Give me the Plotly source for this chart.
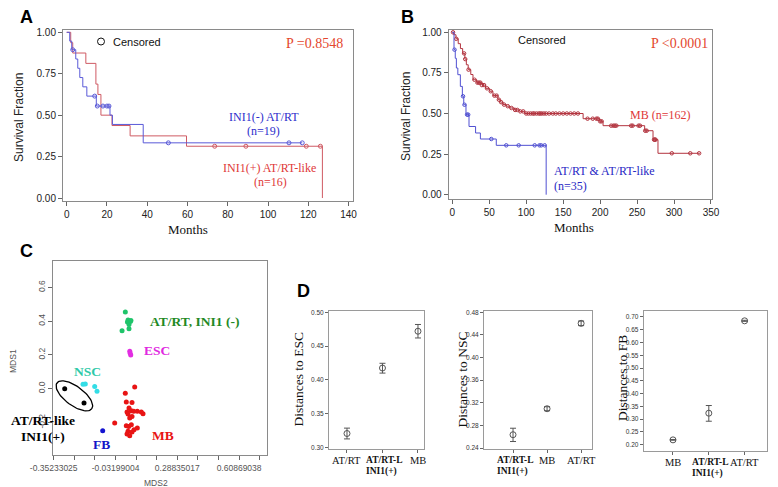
import math
import plotly.graph_objects as go

W, H = 778, 487
SANS = "Liberation Sans, Arial, sans-serif"
SERIF = "Liberation Serif, Times New Roman, serif"

# ---------------- Panel A: Kaplan-Meier, INI1(-) AT/RT vs INI1(+) AT/RT-like
a_blue_t = [0, 1.5, 2.5, 4.5, 5.5, 6.5, 8, 10, 14.7, 21.5, 22.7, 38, 117]
a_blue_s = [1, 0.947, 0.895, 0.839, 0.783, 0.727, 0.671, 0.615, 0.555, 0.50, 0.444, 0.333, 0.333]
a_blue_cens = [3, 13.9, 15.2, 18, 20, 21, 50.5, 110.4, 117]

a_red_t = [0, 2, 3, 9.5, 14.5, 15.5, 17, 22.5, 31.5, 59.5, 127]
a_red_s = [1, 0.9375, 0.875, 0.8125, 0.6875, 0.625, 0.5, 0.4375, 0.375, 0.3125, 0]
a_red_cens = [73.5, 89, 119, 126]

a_xticks = [0, 20, 40, 60, 80, 100, 120, 140]
km_yticks = [0, 0.25, 0.5, 0.75, 1.0]

# ---------------- Panel B: Kaplan-Meier, MB vs AT/RT & AT/RT-like
b_blue_t = [0, 2.3, 4, 5.5, 7.5, 10.9, 13.6, 15.5, 18.5, 22.6, 31.5, 38, 59.5, 127]
b_blue_s = [1, 0.893, 0.84, 0.78, 0.739, 0.667, 0.606, 0.554, 0.493, 0.42, 0.38, 0.343, 0.304, 0]
b_blue_cens = [3, 14.5, 16.5, 20, 21.5, 52.8, 73, 89.8, 111.5, 118, 120.4, 125]

b_red_t = [0, 2, 5, 8, 11, 14, 17, 19, 21.5, 25, 28, 33, 40, 45, 50.5, 55, 61.8, 65, 68.6,
           73, 77.7, 84, 91, 98, 177, 199.4, 204, 260.3, 271.6, 278.3, 335]
b_red_s = [1, 0.985, 0.96, 0.93, 0.90, 0.87, 0.835, 0.80, 0.77, 0.74, 0.708, 0.69, 0.675, 0.655,
           0.637, 0.61, 0.585, 0.57, 0.555, 0.545, 0.534, 0.522, 0.513, 0.50, 0.468, 0.452,
           0.425, 0.394, 0.339, 0.255, 0.255]
b_red_cens = [1, 5.4, 16, 17.5, 22, 30, 34, 36, 38, 40, 43, 47, 52, 57, 60, 63, 66, 70, 75, 80,
              85, 88, 92, 96, 100, 103, 106, 109, 111, 114, 117, 119, 121, 124, 127, 131, 136,
              140, 145, 150, 155, 160, 165, 170, 183, 190, 195, 197, 200, 202, 215, 218, 220,
              222, 242, 244, 252, 254, 261, 263, 273, 274, 275, 297, 322, 334]
b_xticks = [0, 50, 100, 150, 200, 250, 300, 350]

# ---------------- Panel C: MDS plot
c_atrt_x = [0.019, 0.033, 0.045, 0.030, 0.038, 0.002, 0.038, 0.048]
c_atrt_y = [0.454, 0.406, 0.398, 0.395, 0.380, 0.343, 0.355, 0.404]
c_esc_x = [0.042, 0.047, 0.044]
c_esc_y = [0.221, 0.200, 0.210]
c_nsc_x = [-0.2004, -0.1885, -0.1398, -0.1279]
c_nsc_y = [0.026, 0.028, 0.013, -0.015]
c_like_x = [-0.2953, -0.1952]
c_like_y = [0.0, -0.085]
c_fb_x = [-0.0984]
c_fb_y = [-0.2485]
c_mb_x = [0.0676, 0.0188, 0.0240, 0.0536, 0.0380, 0.0277, 0.0500, 0.0624, 0.0811, 0.1106,
          0.1018, 0.0329, 0.0536, 0.0417, -0.0361, 0.0240, 0.0365, 0.0500, 0.0811, 0.0640,
          0.0329, 0.0536, 0.0277, 0.0417]
c_mb_y = [0.010, -0.027, -0.079, -0.081, -0.114, -0.138, -0.130, -0.134, -0.134, -0.148,
          -0.138, -0.150, -0.164, -0.173, -0.203, -0.219, -0.223, -0.213, -0.232, -0.243,
          -0.252, -0.256, -0.268, -0.278]
c_x_start = -0.35233025
c_x_step = 0.10678007
c_x_nticks = 11
c_yticks = [-0.2, 0.0, 0.2, 0.4, 0.6]

# ---------------- Panel D: distances
d1_cats = ["AT/RT", "AT/RT-L|INI1(+)", "MB"]
d1_mean = [0.3205, 0.4175, 0.4720]
d1_lo = [0.3125, 0.4100, 0.4620]
d1_hi = [0.3285, 0.4245, 0.4820]
d1_yticks = [0.30, 0.35, 0.40, 0.45, 0.50]

d2_cats = ["AT/RT-L|INI1(+)", "MB", "AT/RT"]
d2_mean = [0.2635, 0.3095, 0.4605]
d2_lo = [0.2515, 0.3060, 0.4565]
d2_hi = [0.2750, 0.3130, 0.4645]
d2_yticks = [0.24, 0.28, 0.32, 0.36, 0.40, 0.44, 0.48]

d3_cats = ["MB", "AT/RT-L|INI1(+)", "AT/RT"]
d3_mean = [0.2185, 0.3230, 0.6850]
d3_lo = [0.2170, 0.2915, 0.6830]
d3_hi = [0.2200, 0.3530, 0.6870]
d3_yticks = [0.20, 0.25, 0.30, 0.35, 0.40, 0.45, 0.50, 0.55, 0.60, 0.65, 0.70]


def step_at(ts, ss, t):
    idx = 0
    for i, tt in enumerate(ts):
        if tt <= t:
            idx = i
    return ss[idx]


def dx(a, b):
    return [a / W, b / W]


def dy(top, bot):
    return [1 - bot / H, 1 - top / H]


def px(x):
    return x / W


def py(y):
    return 1 - y / H


fig = go.Figure()


def add_km(t, s, cens, color, xa, ya, msize=4):
    fig.add_trace(go.Scatter(x=t, y=s, mode="lines", line=dict(color=color, width=1, shape="hv"),
                             xaxis=xa, yaxis=ya, hoverinfo="skip"))
    fig.add_trace(go.Scatter(x=cens, y=[step_at(t, s, c) for c in cens], mode="markers",
                             marker=dict(symbol="circle-open", size=msize, color=color,
                                         line=dict(width=1, color=color)),
                             xaxis=xa, yaxis=ya, hoverinfo="skip"))


add_km(a_red_t, a_red_s, a_red_cens, "#cf5a63", "x", "y")
add_km(a_blue_t, a_blue_s, a_blue_cens, "#5a5ad8", "x", "y")
add_km(b_red_t, b_red_s, b_red_cens, "#b3343f", "x2", "y2", msize=3.5)
add_km(b_blue_t, b_blue_s, b_blue_cens, "#5050d2", "x2", "y2", msize=3.5)

# MDS points
for xs, ys, col in [(c_atrt_x, c_atrt_y, "#1fc46a"), (c_esc_x, c_esc_y, "#e22ee2"),
                    (c_nsc_x, c_nsc_y, "#33dde6"), (c_like_x, c_like_y, "#000000"),
                    (c_fb_x, c_fb_y, "#1414d0"), (c_mb_x, c_mb_y, "#e81414")]:
    fig.add_trace(go.Scatter(x=xs, y=ys, mode="markers", marker=dict(size=5, color=col),
                             xaxis="x3", yaxis="y3", hoverinfo="skip"))

# ellipse around the AT/RT-like points (pixel-scaled decoration)
c_xr = [-0.3560, 0.7534]
c_yr = [-0.394, 0.754]
sx = (259 - 45) / (c_xr[1] - c_xr[0])
sy = (447.3 - 253.3) / (c_yr[1] - c_yr[0])
cx = sum(c_like_x) / 2
cy = sum(c_like_y) / 2
vx = (c_like_x[1] - c_like_x[0]) * sx
vy = -(c_like_y[1] - c_like_y[0]) * sy
th = math.atan2(vy, vx)
ea = math.hypot(vx, vy) / 2 * 1.8
eb = 9.5
ex, ey = [], []
for k in range(73):
    t = 2 * math.pi * k / 72
    u, v = ea * math.cos(t), eb * math.sin(t)
    ox = u * math.cos(th) - v * math.sin(th)
    oy = u * math.sin(th) + v * math.cos(th)
    ex.append(cx + ox / sx)
    ey.append(cy - oy / sy)
fig.add_trace(go.Scatter(x=ex, y=ey, mode="lines", line=dict(color="black", width=1.3),
                         xaxis="x3", yaxis="y3", hoverinfo="skip"))

# D panels
for mean, lo, hi, xa, ya in [(d1_mean, d1_lo, d1_hi, "x4", "y4"),
                             (d2_mean, d2_lo, d2_hi, "x5", "y5"),
                             (d3_mean, d3_lo, d3_hi, "x6", "y6")]:
    fig.add_trace(go.Scatter(
        x=list(range(len(mean))), y=mean, mode="markers",
        marker=dict(symbol="circle-open", size=6, color="#555", line=dict(width=1, color="#555")),
        error_y=dict(type="data", symmetric=False,
                     array=[h - m for h, m in zip(hi, mean)],
                     arrayminus=[m - l for m, l in zip(mean, lo)],
                     color="#555", thickness=1, width=3),
        xaxis=xa, yaxis=ya, hoverinfo="skip"))

frame = dict(showline=True, linecolor="#8a8a8a", linewidth=1, mirror=True, ticks="outside",
             ticklen=4, tickcolor="#666", showgrid=False, zeroline=False, automargin=False)
kmfont = dict(family=SANS, size=10, color="#222")

layout_axes = dict(
    xaxis=dict(domain=dx(55, 345), range=[-1.84, 142.2], tickvals=a_xticks, tickfont=kmfont,
               anchor="y", **frame),
    yaxis=dict(domain=dy(22, 193), range=[-0.018, 1.014], tickvals=km_yticks, tickformat=".2f",
               tickfont=kmfont, anchor="x", **frame),
    xaxis2=dict(domain=dx(440.7, 704), range=[-4.87, 351.4], tickvals=b_xticks, tickfont=kmfont,
                anchor="y2", **frame),
    yaxis2=dict(domain=dy(22, 191), range=[-0.0265, 1.0142], tickvals=km_yticks, tickformat=".2f",
                tickfont=kmfont, anchor="x2", **frame),
    xaxis3=dict(domain=dx(45, 259), range=c_xr,
                tickvals=[c_x_start + i * c_x_step for i in range(c_x_nticks)],
                ticktext=[("%.8f" % (c_x_start + i * c_x_step)) if i % 3 == 0 else ""
                          for i in range(c_x_nticks)],
                tickfont=dict(family=SANS, size=8.5, color="#555"), anchor="y3", **frame),
    yaxis3=dict(domain=dy(253.3, 447.3), range=c_yr, tickvals=c_yticks,
                ticktext=["%.1f" % v for v in c_yticks], tickangle=-90,
                tickfont=dict(family=SANS, size=8.5, color="#555"), anchor="x3", **frame),
)

dfont = dict(family=SANS, size=6.5, color="#333")
dframe = dict(frame)
dframe["ticklen"] = 3
dframe["linecolor"] = "#9a9a9a"
d_specs = [
    (321, 416, [-0.507, 2.17], d1_cats, [0.298, 0.5015], d1_yticks, 303.3, 440.7),
    (476, 584, [-0.853, 2.32], d2_cats, [0.2388, 0.4818], d2_yticks, 303.3, 440.7),
    (635.7, 759, [-0.818, 2.625], d3_cats, [0.176, 0.7223], d3_yticks, 303.3, 442.7)]
for i, (x0, x1, xr, cats, yr, yt, top, bot) in enumerate(d_specs):
    n = i + 4
    layout_axes["xaxis%d" % n] = dict(domain=dx(x0, x1), range=xr, tickvals=[0, 1, 2],
                                      showticklabels=False, anchor="y%d" % n, **dframe)
    layout_axes["yaxis%d" % n] = dict(domain=dy(top, bot), range=yr, tickvals=yt,
                                      tickformat=".2f", tickfont=dfont, anchor="x%d" % n,
                                      **dframe)

ann = []


def text(x, y, s, size, color, family=SANS, angle=0, xanchor="center", bold=False):
    if bold:
        s = "<b>" + s + "</b>"
    ann.append(dict(x=px(x), y=py(y), xref="paper", yref="paper", text=s, showarrow=False,
                    font=dict(family=family, size=size, color=color), textangle=angle,
                    xanchor=xanchor, yanchor="middle"))


# D category labels (placed under each category's tick)
for (x0, x1, xr, cats, yr, yt, top, bot) in d_specs:
    ppu = (x1 - x0) / (xr[1] - xr[0])
    for k, c in enumerate(cats):
        cxp = x0 + (k - xr[0]) * ppu
        if "|" in c:
            l1, l2 = c.split("|")
            text(cxp - 18.5, bot + 11.5, l1, 9.5, "#111", family=SERIF, xanchor="left", bold=True)
            text(cxp - 18.5, bot + 23, l2, 9.5, "#111", family=SERIF, xanchor="left", bold=True)
        else:
            text(cxp, bot + 11.5, c, 10.5, "#111", family=SERIF)

# panel letters
text(18.5, 9.5, "A", 18, "#000", bold=True)
text(399, 9, "B", 18, "#000", bold=True)
text(18.5, 242.5, "C", 18, "#000", bold=True)
text(295, 283, "D", 18, "#000", bold=True)

# Panel A texts
text(11, 110, "Survival Fraction", 12, "#222", angle=-90)
text(180, 221, "Months", 13, "#111", family=SERIF)
text(103, 33.5, "Censored", 11, "#111", xanchor="left")
text(306, 35, "P =0.8548", 14, "#e4472e", family=SERIF)
text(256, 109, "INI1(-) AT/RT", 12, "#2e2ecc", family=SERIF)
text(256, 123, "(n=19)", 12, "#2e2ecc", family=SERIF)
text(261, 160, "INI1(+) AT/RT-like", 12, "#e03838", family=SERIF)
text(262, 174, "(n=16)", 12, "#e03838", family=SERIF)

# Panel B texts
text(398, 108, "Survival Fraction", 12, "#222", angle=-90)
text(566, 219.5, "Months", 13, "#111", family=SERIF)
text(534, 32.5, "Censored", 11, "#111")
text(671, 35, "P &lt;0.0001", 14, "#e4472e", family=SERIF)
text(652, 107, "MB (n=162)", 12, "#e03838", family=SERIF)
text(544, 163, "AT/RT &amp; AT/RT-like", 12, "#2828c4", family=SERIF, xanchor="left")
text(544, 178, "(n=35)", 12, "#2828c4", family=SERIF, xanchor="left")

# Panel C texts
text(5, 353, "MDS1", 8.5, "#555", angle=-90)
text(148, 474.5, "MDS2", 8.5, "#555")
text(186, 313, "AT/RT, INI1 (-)", 13.5, "#1f8a25", family=SERIF, bold=True)
text(148.5, 342.5, "ESC", 13.5, "#e028e0", family=SERIF, bold=True)
text(79, 363, "NSC", 13.5, "#2ec9a8", family=SERIF, bold=True)
text(35, 412, "AT/RT-like", 13.5, "#000", family=SERIF, bold=True)
text(35, 428, "INI1(+)", 13.5, "#000", family=SERIF, bold=True)
text(93.5, 436, "FB", 13.5, "#1414c8", family=SERIF, bold=True)
text(154.5, 427, "MB", 13.5, "#e81414", family=SERIF, bold=True)

# Panel D titles
text(290, 371.5, "Distances to ESC", 13.5, "#111", family=SERIF, angle=-90)
text(454, 371.5, "Distances to NSC", 13.5, "#111", family=SERIF, angle=-90)
text(614, 370, "Distances to FB", 13.5, "#111", family=SERIF, angle=-90)

shapes = [dict(type="circle", xref="paper", yref="paper",
               x0=px(89.5), x1=px(96.5), y0=py(37), y1=py(30),
               line=dict(color="#111", width=1))]

fig.update_layout(width=W, height=H,
                  margin=dict(l=0, r=0, t=0, b=0, pad=0, autoexpand=False),
                  showlegend=False,
                  paper_bgcolor="white", plot_bgcolor="white", annotations=ann, shapes=shapes,
                  **layout_axes)

fig.write_html("out.html")
